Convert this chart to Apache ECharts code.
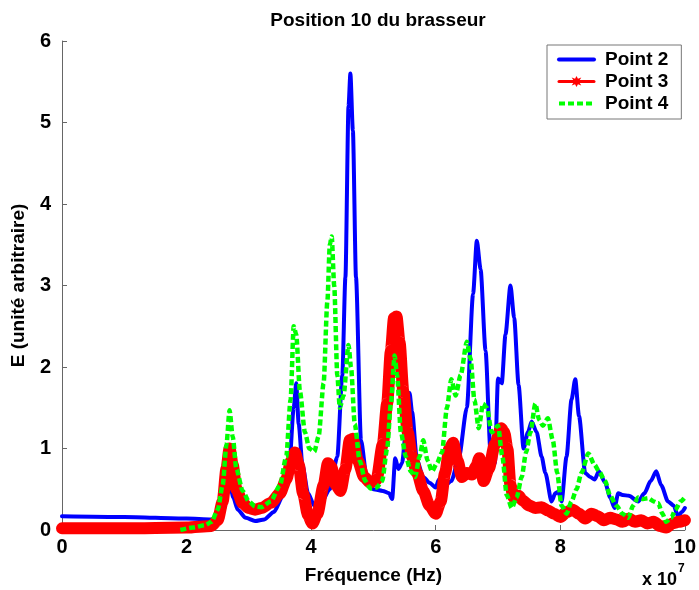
<!DOCTYPE html>
<html>
<head>
<meta charset="utf-8">
<script src="https://cdn.jsdelivr.net/npm/echarts@6/dist/echarts.min.js"></script>
<style>
html,body{margin:0;padding:0;background:#fff;}
#c{width:699px;height:590px;}
</style>
</head>
<body>
<div id="c"></div>
<script>
// ---- data (x in units of 1e7 Hz) ----
var p2X = [0,1.0,2.0,2.4,2.5,2.6,2.66,2.7,2.75,2.82,2.95,3.1,3.25,3.4,3.55,3.65,3.72,3.76,3.8,3.86,3.95,4.05,4.15,4.3,4.42,4.5,4.55,4.6,4.63,4.67,4.72,4.8,4.9,5.0,5.15,5.25,5.3,5.35,5.4,5.46,5.52,5.58,5.62,5.7,5.8,5.9,6.0,6.05,6.15,6.25,6.37,6.5,6.6,6.66,6.72,6.8,6.88,6.95,7.0,7.06,7.12,7.2,7.26,7.33,7.41,7.48,7.54,7.62,7.7,7.76,7.86,7.92,7.97,8.02,8.1,8.18,8.24,8.3,8.4,8.48,8.55,8.62,8.72,8.8,8.87,8.93,9.0,9.1,9.25,9.35,9.45,9.54,9.62,9.73,9.82,9.89,9.95,10.0];
var p2Y = [0.17,0.16,0.14,0.13,0.15,0.26,0.45,0.55,0.4,0.25,0.15,0.11,0.13,0.22,0.42,0.8,1.5,1.8,1.3,0.8,0.45,0.3,0.32,0.5,0.9,1.9,3.1,5.2,5.6,4.9,3.1,1.1,0.6,0.5,0.48,0.45,0.38,0.88,0.75,0.82,1.2,1.68,1.45,0.85,0.65,0.58,0.52,0.62,0.55,0.6,0.88,1.5,2.9,3.55,3.2,2.2,0.96,0.82,1.86,1.8,2.4,3.0,2.6,1.78,1.0,1.2,1.33,1.2,0.9,0.7,0.35,0.45,0.47,0.35,0.9,1.6,1.85,1.4,0.7,0.65,0.62,0.72,0.58,0.4,0.27,0.45,0.43,0.42,0.35,0.45,0.6,0.72,0.55,0.35,0.3,0.17,0.22,0.27];

var p3X = [0,1,2,2.4,2.5,2.58,2.64,2.69,2.74,2.8,2.9,3.0,3.1,3.2,3.35,3.5,3.6,3.68,3.74,3.8,3.87,3.95,4.02,4.1,4.2,4.27,4.32,4.4,4.47,4.55,4.62,4.67,4.75,4.85,4.95,5.05,5.15,5.22,5.28,5.33,5.37,5.42,5.48,5.55,5.62,5.7,5.8,5.9,6.0,6.08,6.15,6.22,6.28,6.35,6.42,6.5,6.58,6.65,6.7,6.77,6.85,6.95,7.05,7.1,7.15,7.2,7.25,7.33,7.4,7.5,7.6,7.7,7.8,7.9,8.0,8.1,8.2,8.3,8.4,8.5,8.6,8.7,8.8,8.9,9.0,9.1,9.2,9.3,9.4,9.5,9.6,9.7,9.8,9.9,10.0];
var p3Y = [0.02,0.02,0.03,0.05,0.12,0.35,0.75,1.0,0.8,0.5,0.33,0.27,0.25,0.27,0.33,0.45,0.62,0.85,0.95,0.8,0.45,0.18,0.08,0.2,0.55,0.82,0.78,0.55,0.48,0.75,1.1,1.12,0.85,0.65,0.58,0.62,1.05,1.55,2.2,2.6,2.62,2.3,1.7,1.2,0.9,0.7,0.48,0.3,0.2,0.35,0.7,1.0,1.07,0.85,0.65,0.7,0.68,0.78,0.88,0.6,0.75,1.05,1.25,1.2,1.0,0.55,0.4,0.42,0.36,0.3,0.27,0.28,0.24,0.2,0.16,0.22,0.25,0.2,0.14,0.2,0.17,0.12,0.15,0.13,0.1,0.14,0.1,0.12,0.08,0.1,0.05,0.03,0.08,0.1,0.12];

var p4X = [1.9,2.1,2.3,2.4,2.5,2.58,2.64,2.69,2.74,2.8,2.9,3.0,3.1,3.2,3.35,3.5,3.6,3.67,3.72,3.76,3.82,3.9,3.97,4.05,4.12,4.2,4.26,4.3,4.33,4.37,4.42,4.46,4.52,4.6,4.64,4.7,4.78,4.87,4.95,5.05,5.14,5.22,5.28,5.34,5.38,5.44,5.52,5.6,5.67,5.74,5.8,5.87,5.94,6.02,6.1,6.18,6.25,6.32,6.4,6.5,6.56,6.62,6.69,6.76,6.82,6.9,7.0,7.07,7.14,7.22,7.3,7.38,7.45,7.52,7.6,7.66,7.72,7.8,7.88,7.95,8.02,8.1,8.18,8.26,8.34,8.45,8.55,8.62,8.72,8.8,8.9,9.0,9.09,9.17,9.25,9.33,9.41,9.5,9.57,9.64,9.7,9.78,9.85,9.93,10.0];
var p4Y = [0.0,0.03,0.06,0.1,0.25,0.55,1.05,1.47,1.15,0.75,0.48,0.35,0.29,0.28,0.35,0.55,0.9,1.6,2.5,2.4,1.7,1.2,1.0,0.96,1.15,1.8,2.8,3.5,3.6,3.0,1.9,1.5,1.65,2.27,2.0,1.3,0.85,0.6,0.51,0.52,0.6,1.0,1.55,2.14,1.9,1.2,0.9,0.72,0.65,0.9,1.1,0.85,0.72,0.82,0.95,1.5,1.85,1.65,1.9,2.31,2.1,1.6,1.25,1.55,1.5,1.2,1.28,0.9,0.43,0.27,0.4,0.65,0.95,1.2,1.55,1.35,1.28,1.37,1.1,0.7,0.3,0.2,0.35,0.5,0.7,0.94,0.8,0.72,0.6,0.42,0.3,0.2,0.15,0.3,0.4,0.38,0.39,0.35,0.33,0.2,0.1,0.15,0.25,0.35,0.4];

var seriesNames = ['Point 2','Point 3','Point 4'];
var titleText = 'Position 10 du brasseur';
var xName = 'Fr\u00e9quence (Hz)';
var yName = 'E (unit\u00e9 arbitraire)';

function pairs(xs, ys){ var out=[]; for(var i=0;i<xs.length;i++){ out.push([xs[i], ys[i]]); } return out; }

var FONT = '"Liberation Sans", Arial, sans-serif';
var chart = echarts.init(document.getElementById('c'), null, {renderer:'canvas'});
var starPath = 'path://M5,0 L6.3,2.6 L9.3,1.4 L7.6,4.1 L10,5 L7.6,5.9 L9.3,8.6 L6.3,7.4 L5,10 L3.7,7.4 L0.7,8.6 L2.4,5.9 L0,5 L2.4,4.1 L0.7,1.4 L3.7,2.6 Z';

chart.setOption({
  animation:false,
  backgroundColor:'#ffffff',
  title:{
    text:titleText, left:373, top:6, textAlign:'center',
    textStyle:{fontFamily:FONT, fontSize:19, fontWeight:'bold', color:'#000'}
  },
  grid:{left:62, right:12, top:41, bottom:58, containLabel:false},
  legend:{
    orient:'vertical', left:547, top:45,
    padding:[5,13,6,10], itemGap:3, itemWidth:35, itemHeight:14,
    backgroundColor:'#fff', borderColor:'#777', borderWidth:1, borderRadius:0,
    textStyle:{fontFamily:FONT, fontSize:19, fontWeight:'bold', color:'#000', lineHeight:19, padding:[0,0,0,6]},
    data:[
      {name:seriesNames[0], itemStyle:{opacity:0, color:'rgba(0,0,0,0)'}, lineStyle:{width:4, type:'solid'}},
      {name:seriesNames[1], itemStyle:{opacity:1}, lineStyle:{width:3, type:'solid'}},
      {name:seriesNames[2], itemStyle:{opacity:0, color:'rgba(0,0,0,0)'}, lineStyle:{width:4, type:[6,3]}}
    ]
  },
  xAxis:{
    type:'value', min:0, max:10, interval:2,
    name:xName, nameLocation:'middle', nameGap:36,
    nameTextStyle:{fontFamily:FONT, fontSize:19, fontWeight:'bold', color:'#000'},
    axisLine:{onZero:false, lineStyle:{color:'#666', width:1}},
    axisTick:{inside:true, length:5, lineStyle:{color:'#666'}},
    axisLabel:{fontFamily:FONT, fontSize:20, fontWeight:'bold', color:'#000', margin:7},
    splitLine:{show:false}
  },
  yAxis:{
    type:'value', min:0, max:6, interval:1,
    name:yName, nameLocation:'middle', nameGap:34, nameRotate:90,
    nameTextStyle:{fontFamily:FONT, fontSize:19, fontWeight:'bold', color:'#000'},
    axisLine:{show:true, lineStyle:{color:'#666', width:1}},
    axisTick:{show:true, inside:true, length:5, lineStyle:{color:'#666'}},
    axisLabel:{fontFamily:FONT, fontSize:20, fontWeight:'bold', color:'#000', margin:11},
    splitLine:{show:false}
  },
  graphic:[{
    type:'text', left:642, top:563,
    style:{
      text:'{a|x 10}{s|7}',
      rich:{
        a:{fontFamily:FONT, fontSize:18, fontWeight:'bold', fill:'#000', verticalAlign:'bottom', padding:[8,0,0,0]},
        s:{fontFamily:FONT, fontSize:12, fontWeight:'bold', fill:'#000', verticalAlign:'top', padding:[0,0,12,1]}
      }
    }
  }],
  series:[
    {name:seriesNames[0], type:'line', data:pairs(p2X,p2Y), showSymbol:false, symbol:'none',
     smooth:0.25, smoothMonotone:'x', color:'#0000ff',
     lineStyle:{color:'#0000ff', width:4, join:'round', cap:'round'}, z:2},
    {name:seriesNames[1], type:'line', data:pairs(p3X,p3Y), showSymbol:false, symbol:starPath, symbolSize:12,
     smooth:0.25, smoothMonotone:'x', color:'#ff0000',
     itemStyle:{color:'#ff0000'},
     lineStyle:{color:'#ff0000', width:12, join:'round', cap:'round'}, z:3},
    {name:seriesNames[2], type:'line', data:pairs(p4X,p4Y), showSymbol:false, symbol:'none',
     smooth:0.25, smoothMonotone:'x', color:'#00ff00',
     lineStyle:{color:'#00ff00', width:4.5, type:[6,3]}, z:4}
  ]
});
</script>
</body>
</html>
